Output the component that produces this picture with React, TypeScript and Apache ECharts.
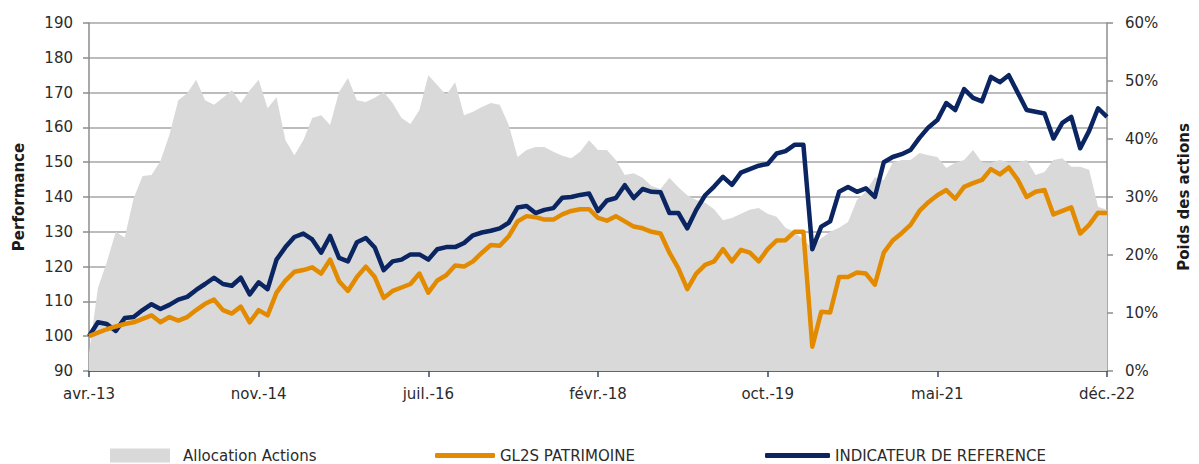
import React, { useEffect, useRef } from "react";
import * as echarts from "echarts";

// x-axis tick labels (one every STEP points)
const tickLabels = ["avr.-13", "nov.-14", "juil.-16", "févr.-18", "oct.-19", "mai-21", "déc.-22"];
const STEP = 19;

// Allocation Actions (% , right axis)
const allocation = [
  3, 14.3, 18.8, 24, 23, 29.8, 33.6, 33.8, 36.2, 40.7,
  46.7, 47.9, 50.2, 46.7, 45.9, 47.1, 48.4, 46.2, 48.4, 50.2,
  45.3, 47.2, 39.8, 37.2, 39.8, 43.6, 44.1, 42.4, 48.1, 50.5,
  46.7, 46.4, 47.1, 48.1, 46.2, 43.6, 42.6, 45, 51, 49.3,
  47.6, 49.8, 44.1, 44.7, 45.5, 46.2, 45.9, 42.4, 36.9, 38.1,
  38.6, 38.6, 37.8, 37.1, 36.7, 37.8, 39.8, 38.1, 38.1, 36.4,
  33.8, 34.1, 33.3, 31.9, 31.4, 33.3, 31.7, 30.3, 29.5, 29,
  27.9, 26, 26.4, 27.1, 27.8, 28.1, 27.1, 26.6, 24.7, 24,
  22.6, 21.2, 22.9, 24, 24.7, 25.7, 29.5, 30.9, 33.4, 32.9,
  35.9, 36.4, 36.4, 37.6, 37.2, 36.9, 35, 35.9, 36.4, 38.1,
  36, 35.9, 36.4, 36, 36, 36.4, 33.8, 34.3, 36.4, 36.7,
  35.2, 35.2, 34.7, 28.3, 27.8,
];

// GL2S PATRIMOINE (left axis)
const gl2s = [
  100, 101, 102, 102.8, 103.5, 104, 105, 106, 104, 105.5,
  104.5, 105.5, 107.5, 109.3, 110.5, 107.5, 106.5, 108.5, 104, 107.5,
  106, 112.5, 116, 118.5, 119, 119.8, 118, 122, 115.8, 113,
  117, 120, 117, 111, 113, 114, 115, 118, 112.5, 116,
  117.5, 120.3, 120, 121.5, 124, 126.2, 126, 128.7, 133, 134.5,
  134.2, 133.5, 133.5, 135, 136, 136.5, 136.5, 134, 133.2, 134.5,
  133, 131.5, 131, 130, 129.5, 124, 119.5, 113.5, 118, 120.5,
  121.5, 125, 121.5, 124.8, 124, 121.5, 125, 127.5, 127.6, 130,
  130, 97, 107, 106.8, 117, 117, 118.3, 118, 114.8, 124,
  127.5, 129.6, 132, 136, 138.5, 140.5, 142, 139.5, 142.9, 144,
  144.9, 148, 146.5, 148.5, 145, 140, 141.5, 142, 135, 136,
  137, 129.5, 132, 135.5, 135.4,
];

// INDICATEUR DE REFERENCE (left axis)
const indicateur = [
  100, 104, 103.5, 101.5, 105.2, 105.5, 107.5, 109.2, 107.8, 109,
  110.5, 111.3, 113.3, 115, 116.8, 115, 114.5, 116.8, 112, 115.5,
  113.5, 122, 125.6, 128.5, 129.5, 127.8, 124, 128.8, 122.5, 121.5,
  127, 128.2, 125.5, 119, 121.5, 122, 123.5, 123.5, 122, 125,
  125.6, 125.6, 126.8, 129, 129.8, 130.3, 131, 132.6, 137, 137.4,
  135.4, 136.3, 136.8, 139.8, 140, 140.6, 141, 136, 139, 139.7,
  143.4, 139.7, 142.3, 141.5, 141.4, 135.4, 135.4, 131, 136.3, 140.5,
  143, 145.8, 143.5, 147, 148, 149, 149.5, 152.5, 153.2, 155,
  155, 125, 131.5, 133, 141.5, 142.9, 141.5, 142.5, 140, 150,
  151.5, 152.3, 153.5, 157, 160, 162.1, 167, 165, 171, 168.5,
  167.5, 174.5, 173, 175, 170, 165, 164.5, 164, 156.8, 161.3,
  163, 154, 159, 165.5, 163,
];

const categories = allocation.map((_, i) => String(i));

const FONT = "DejaVu Sans";
const TEXT = "#2b2b2b";

export default function App() {
  const ref = useRef<HTMLDivElement>(null);
  useEffect(() => {
    const chart = echarts.init(ref.current!, null, { renderer: "svg" });
    const legendText = { fontFamily: FONT, fontSize: 15, color: TEXT };
    chart.setOption({
      animation: false,
      textStyle: { fontFamily: FONT },
      grid: { left: 89, right: 86, top: 23, bottom: 93 },
      legend: [
        {
          data: ["Allocation Actions"], left: 108, top: 446, itemWidth: 60, itemHeight: 14,
          icon: "rect", selectedMode: false, padding: 2, textStyle: { ...legendText, padding: [0, 0, 0, 8] },
        },
        {
          data: ["GL2S PATRIMOINE"], left: 433, top: 446, itemWidth: 60, itemHeight: 5,
          icon: "roundRect", selectedMode: false, padding: 2, textStyle: legendText,
        },
        {
          data: ["INDICATEUR DE REFERENCE"], left: 763, top: 446, itemWidth: 65, itemHeight: 5,
          icon: "roundRect", selectedMode: false, padding: 2, textStyle: legendText,
        },
      ],
      xAxis: {
        type: "category",
        data: categories,
        boundaryGap: false,
        axisLine: { lineStyle: { color: "#3b4868", width: 1.5 } },
        axisTick: { interval: STEP - 1, length: 6, lineStyle: { color: "#3b4868", width: 1.5 } },
        axisLabel: {
          interval: STEP - 1,
          margin: 15,
          fontSize: 15,
          color: TEXT,
          fontFamily: FONT,
          formatter: (_v: string, idx: number) =>
            idx % STEP === 0 ? tickLabels[idx / STEP] ?? "" : "",
        },
        splitLine: { show: false },
      },
      yAxis: [
        {
          type: "value", min: 90, max: 190, interval: 10, position: "left",
          name: "Performance", nameLocation: "middle", nameGap: 63, nameRotate: 90,
          nameTextStyle: { fontWeight: "bold", fontSize: 15, color: "#1a1a1a", fontFamily: FONT },
          axisLine: { show: true, lineStyle: { color: "#8c8c8c", width: 1.5 } },
          axisTick: { show: true, length: 6, lineStyle: { color: "#8c8c8c", width: 1.5 } },
          axisLabel: { margin: 16, fontSize: 15, color: TEXT, fontFamily: FONT },
          splitLine: { show: true, lineStyle: { color: "#a6a6a6", width: 1.5 } },
        },
        {
          type: "value", min: 0, max: 60, interval: 10, position: "right",
          name: "Poids des actions", nameLocation: "middle", nameGap: 69, nameRotate: 90,
          nameTextStyle: { fontWeight: "bold", fontSize: 15, color: "#1a1a1a", fontFamily: FONT },
          axisLine: { show: true, lineStyle: { color: "#8c8c8c", width: 1.5 } },
          axisTick: { show: true, length: 6, lineStyle: { color: "#8c8c8c", width: 1.5 } },
          axisLabel: { margin: 18, fontSize: 15, color: TEXT, fontFamily: FONT, formatter: "{value}%" },
          splitLine: { show: false },
        },
      ],
      series: [
        {
          name: "Allocation Actions", type: "line", yAxisIndex: 1, data: allocation,
          symbol: "none", silent: true, color: "#d9d9d9",
          lineStyle: { width: 0, color: "#d9d9d9" },
          areaStyle: { color: "#d9d9d9", opacity: 1 },
          z: 1,
        },
        {
          name: "INDICATEUR DE REFERENCE", type: "line", yAxisIndex: 0, data: indicateur,
          symbol: "none", silent: true, color: "#0b2562",
          lineStyle: { width: 4.5, color: "#0b2562", join: "round" },
          z: 3,
        },
        {
          name: "GL2S PATRIMOINE", type: "line", yAxisIndex: 0, data: gl2s,
          symbol: "none", silent: true, color: "#e38b00",
          lineStyle: { width: 4.5, color: "#e38b00", join: "round" },
          z: 4,
        },
      ],
    });
    return () => chart.dispose();
  }, []);
  return (
    <div
      ref={ref}
      style={{ position: "absolute", left: 0, top: 0, width: 1199, height: 464, background: "#fff" }}
    />
  );
}
